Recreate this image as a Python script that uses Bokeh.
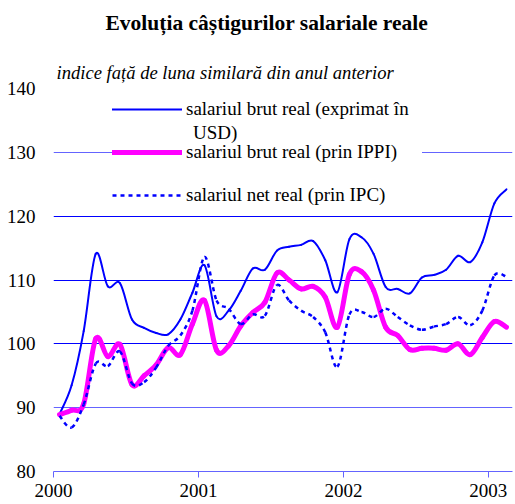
from bokeh.plotting import figure
from bokeh.models import (ColumnDataSource, FixedTicker, Legend, LegendItem,
                          Range1d, Title, Grid)
from bokeh.embed import file_html
from bokeh.resources import INLINE

# ---- data (monthly, Jan 2000 - Feb 2003) ----
start_year, start_month, n_months = 2000, 1, 38
brut_usd = [89.0, 93.5, 102.0, 114.1, 109.0, 109.5, 103.8, 102.5, 101.7, 101.5,
            103.8, 108.0, 112.3, 104.3, 105.2, 108.3, 111.8, 111.6, 114.6, 115.2,
            115.5, 116.1, 113.1, 108.1, 116.4, 116.7, 114.1, 108.9, 108.6, 107.9,
            110.4, 110.8, 111.6, 113.8, 112.8, 115.9, 122.0, 124.2]
brut_ippi = [88.9, 89.6, 90.6, 100.8, 98.0, 99.9, 93.6, 95.0, 96.7, 99.4,
             98.3, 103.1, 106.8, 99.0, 99.7, 102.8, 104.9, 106.5, 111.1, 110.0,
             108.6, 109.0, 107.3, 102.6, 110.9, 111.3, 108.4, 102.6, 101.3, 99.1,
             99.3, 99.3, 99.0, 100.0, 98.3, 101.0, 103.5, 102.6]
net_ipc = [88.7, 86.9, 90.5, 96.9, 96.5, 98.8, 93.8, 94.0, 96.3, 99.7,
           101.3, 105.2, 113.6, 106.8, 105.5, 103.1, 104.6, 104.4, 109.2, 106.8,
           105.2, 104.2, 101.8, 96.4, 104.6, 105.0, 104.2, 105.5, 104.2, 102.9,
           102.2, 102.7, 103.1, 104.2, 102.9, 105.2, 110.7, 110.5]
year_ticks = [2000, 2001, 2002, 2003]
y_ticks = [80, 90, 100, 110, 120, 130, 140]

title_text = "Evoluția câștigurilor salariale reale"
subtitle_text = "indice față de luna similară din anul anterior"
labels = ["salariul brut real (exprimat în", "salariul brut real (prin IPPI)",
          "salariul net real (prin IPC)"]
label_wrap = "USD)"

# month positions (mid-month on a continuous year axis)
xs = []
for k in range(n_months):
    m = start_month - 1 + k
    xs.append(start_year + m // 12 + ((m % 12) + 0.5) / 12)


def smooth_segments(x, y):
    n = len(x)
    d = dict(x0=[], y0=[], x1=[], y1=[], cx0=[], cy0=[], cx1=[], cy1=[])
    for i in range(n - 1):
        pm = max(i - 1, 0)
        pp = min(i + 2, n - 1)
        d["x0"].append(x[i]); d["y0"].append(y[i])
        d["x1"].append(x[i + 1]); d["y1"].append(y[i + 1])
        d["cx0"].append(x[i] + (x[i + 1] - x[pm]) / 6)
        d["cy0"].append(y[i] + (y[i + 1] - y[pm]) / 6)
        d["cx1"].append(x[i + 1] - (x[pp] - x[i]) / 6)
        d["cy1"].append(y[i + 1] - (y[pp] - y[i]) / 6)
    return ColumnDataSource(d)


SERIF = "Liberation Serif"
GRID_DARK = "#0000ff"
GRID_LIGHT = "#6464ff"
FS = "19px"

p = figure(width=515, height=504, output_backend="svg", toolbar_location=None,
           x_range=Range1d(2000, 2003 + 2 / 12), y_range=Range1d(80, 140),
           min_border_left=53, min_border_right=3, min_border_top=88, min_border_bottom=33)
p.outline_line_color = None
p.background_fill_color = "white"
p.border_fill_color = "white"

# axes
p.xaxis.ticker = FixedTicker(ticks=year_ticks)
p.xaxis.axis_line_color = GRID_LIGHT
p.xaxis.major_tick_line_color = GRID_LIGHT
p.xaxis.major_tick_in = 0
p.xaxis.major_tick_out = 6
p.xaxis.minor_tick_line_color = None
p.xaxis.major_label_standoff = 6
p.xaxis.major_label_text_font = SERIF
p.xaxis.major_label_text_font_size = FS
p.xaxis.major_label_text_color = "black"

p.yaxis.ticker = FixedTicker(ticks=y_ticks)
p.yaxis.axis_line_color = None
p.yaxis.major_tick_line_color = None
p.yaxis.minor_tick_line_color = None
p.yaxis.major_label_standoff = 12
p.yaxis.major_label_text_font = SERIF
p.yaxis.major_label_text_font_size = FS
p.yaxis.major_label_text_color = "black"

p.xgrid.grid_line_color = None
p.ygrid.ticker = FixedTicker(ticks=[100, 110, 120])
p.ygrid.grid_line_color = GRID_DARK
p.add_layout(Grid(dimension=1, ticker=FixedTicker(ticks=[90, 130, 140]),
                  grid_line_color=GRID_LIGHT, level="underlay"))

# series (smoothed like the original)
bz = dict(x0="x0", y0="y0", x1="x1", y1="y1", cx0="cx0", cy0="cy0", cx1="cx1", cy1="cy1")
r1 = p.bezier(source=smooth_segments(xs, brut_usd), line_color="#0000ff",
              line_width=2, line_cap="round", **bz)
r2 = p.bezier(source=smooth_segments(xs, brut_ippi), line_color="#ff00ff",
              line_width=5, line_cap="round", **bz)
r3 = p.bezier(source=smooth_segments(xs, net_ipc), line_color="#0000ff",
              line_width=2.5, line_dash="4 4", **bz)

legend = Legend(items=[LegendItem(label=labels[0], renderers=[r1]),
                       LegendItem(label=labels[1], renderers=[r2]),
                       LegendItem(label=labels[2], renderers=[r3])],
                location=(59, 265), orientation="vertical",
                glyph_width=70, glyph_height=22, label_height=22, label_width=236,
                label_standoff=4, spacing=21, padding=6, margin=0,
                label_text_font=SERIF, label_text_font_size=FS, label_text_color="black",
                background_fill_color="white", background_fill_alpha=1.0,
                border_line_color=None)
p.add_layout(legend)

# wrapped second line of the first legend entry
blank = p.line(x=[], y=[], line_alpha=0)
legend_wrap = Legend(items=[LegendItem(label=label_wrap, renderers=[blank])],
                     location=(139, 327), glyph_width=1, glyph_height=22, label_height=22,
                     label_standoff=0, padding=0, margin=0,
                     label_text_font=SERIF, label_text_font_size=FS, label_text_color="black",
                     background_fill_alpha=0, border_line_color=None)
p.add_layout(legend_wrap)

# titles (first added sits closest to the plot)
p.add_layout(Title(text=subtitle_text, align="left", offset=3, standoff=12,
                   text_font=SERIF, text_font_size="18.6px", text_font_style="italic",
                   text_color="black"), "above")
p.add_layout(Title(text=" ", align="left", standoff=0,
                   text_font=SERIF, text_font_size="15.4px"), "above")
p.add_layout(Title(text=title_text, align="left", offset=52, standoff=0,
                   text_font=SERIF, text_font_size="21.5px", text_font_style="bold",
                   text_color="black"), "above")

open("out.html", "w").write(file_html(p, INLINE))
